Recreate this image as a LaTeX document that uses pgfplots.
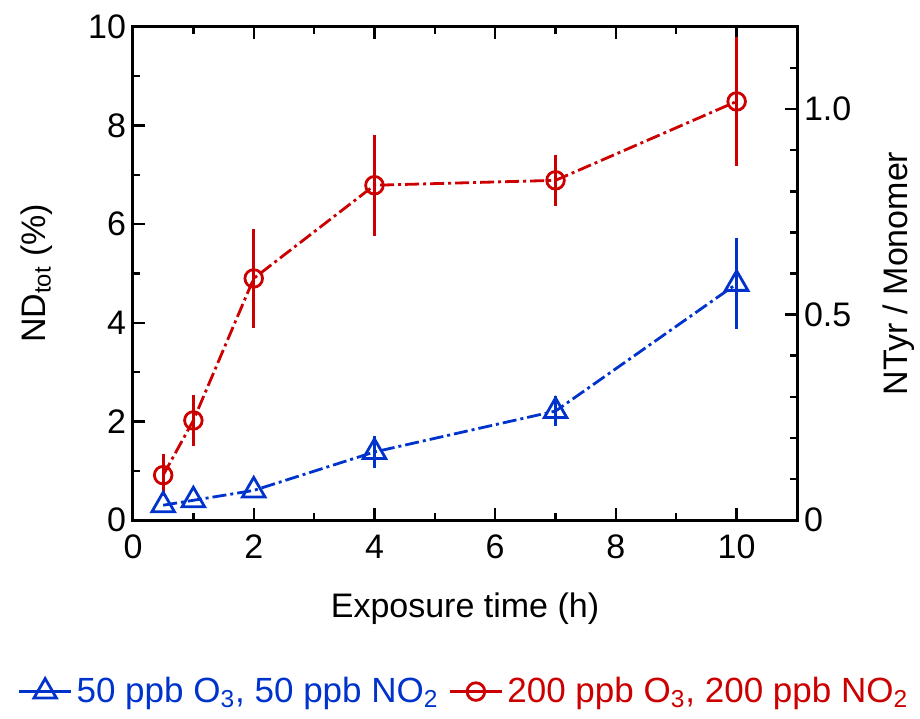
\documentclass[border=0pt]{standalone}
\usepackage{pgfplots}
\pgfplotsset{compat=1.18}
\usepackage{fontspec}
\setmainfont{Liberation Sans}
\definecolor{cred}{RGB}{204,0,0}
\definecolor{cblue}{RGB}{0,51,204}

\pgfplotstableread{
x    y    e
0.5  0.30 0.0
1    0.40 0.0
2    0.60 0.0
4    1.38 0.33
7    2.21 0.31
10   4.79 0.92
}\lowdata
\pgfplotstableread{
x    y    e
0.5  0.91 0.42
1    2.02 0.51
2    4.90 1.00
4    6.79 1.02
7    6.89 0.52
10   8.49 1.31
}\highdata

\begin{document}
\begin{tikzpicture}
\useasboundingbox (-66.5pt,-99pt) rectangle (393.5pt,260pt);
\pgfplotsset{
  common/.style={
    width=332pt, height=246.5pt, scale only axis,
    xmin=0, xmax=11,
    axis line style={line width=1.5pt},
    every tick/.style={black, line width=1.2pt},
    major tick length=6pt, minor tick length=3.5pt,
    tick label style={font=\fontsize{17}{20}\selectfont},
    label style={font=\fontsize{17}{20}\selectfont},
    /pgf/number format/assume math mode=true,
  },
}
\begin{axis}[common,
  ymin=0, ymax=10,
  xtick={0,2,...,10}, minor xtick={1,3,...,11},
  ytick={0,2,...,10}, minor ytick={1,3,...,9},
  xtick pos=both, ytick pos=left,
  xticklabel pos=lower,
  xticklabel style={yshift=-4pt},
  xlabel={Exposure time (h)},
  xlabel style={yshift=-10pt},
  ylabel={ND\textsubscript{tot} (\%)},
  ylabel style={yshift=11pt},
  legend style={at={(0.5,-0.348)}, anchor=center, draw=none, fill=none,
    legend columns=2, font=\fontsize{17.5}{20}\selectfont,
    /tikz/every even column/.append style={column sep=3pt},
    inner sep=0pt},
  legend image code/.code={
    \draw[solid, #1] (0pt,0pt) -- (26pt,0pt);
    \draw[solid, #1] plot[only marks] coordinates {(13pt,0pt)};
  },
]
\addplot[cblue, line width=1.4pt,
  dash pattern=on 7pt off 2pt on 1.5pt off 2pt,
  mark=triangle, mark size=6.5pt, mark options={solid, fill=white, line width=1.4pt},
  error bars/.cd, y dir=both, y explicit, error mark=none,
  error bar style={solid, line width=1.4pt}]
  table[x=x, y=y, y error=e] {\lowdata};
\addlegendentry{\textcolor{cblue}{50 ppb O\textsubscript{3}, 50 ppb NO\textsubscript{2}}}
\addplot[cred, line width=1.4pt,
  dash pattern=on 7pt off 2pt on 1.5pt off 2pt,
  mark=o, mark size=4.4pt, mark options={solid, fill=white, line width=1.4pt},
  error bars/.cd, y dir=both, y explicit, error mark=none,
  error bar style={solid, line width=1.4pt}]
  table[x=x, y=y, y error=e] {\highdata};
\addlegendentry{\textcolor{cred}{200 ppb O\textsubscript{3}, 200 ppb NO\textsubscript{2}}}
\end{axis}
\begin{axis}[common,
  ymin=0, ymax=1.2,
  axis x line=none, axis y line*=right,
  ytick={0,0.5,1.0}, yticklabels={0,0.5,1.0},
  minor ytick={0.1,0.2,0.3,0.4,0.6,0.7,0.8,0.9,1.1},
  ylabel={NTyr / Monomer},
  ylabel style={yshift=-9pt},
]
\end{axis}
\end{tikzpicture}
\end{document}
